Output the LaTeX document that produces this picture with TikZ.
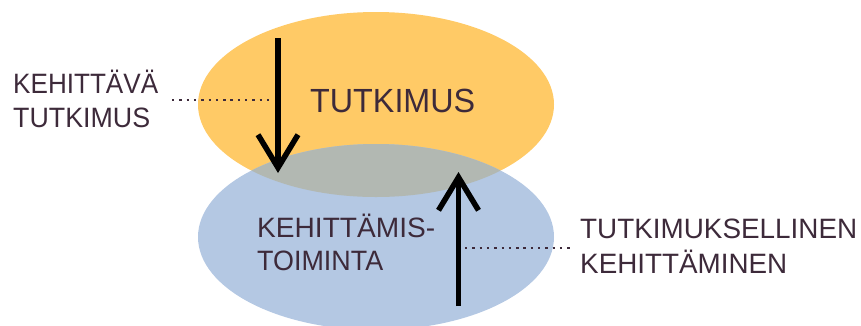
\documentclass[tikz,border=0pt]{standalone}
\usepackage{fontspec}
\usepackage{graphicx}
\setmainfont{Liberation Sans}
\usetikzlibrary{arrows.meta}
\definecolor{orng}{HTML}{FFCA66}
\definecolor{blu}{HTML}{B4C8E3}
\definecolor{ovl}{HTML}{B2B8B2}
\definecolor{txt}{HTML}{3D2A3A}
\newcommand{\fitw}[2]{\resizebox{#1}{\height}{#2}}
\tikzset{
  lbl/.style={inner sep=0pt, anchor=base west, text=txt},
  dotline/.style={draw=txt, line width=2.4pt, dash pattern=on 2.4pt off 4.9pt},
  bigarrow/.style={line width=5.5pt, -{Straight Barb[length=33pt,width=40pt]}},
}
\begin{document}
\begin{tikzpicture}[x=1pt,y=-1pt]
\useasboundingbox (0,0) rectangle (861,325);
\begin{scope}
\clip (0,0) rectangle (861,325);
\fill[orng] (376,104.5) ellipse [x radius=178pt, y radius=92.5pt];
\fill[blu] (376,237) ellipse [x radius=178pt, y radius=93pt];
\begin{scope}
\clip (376,104.5) ellipse [x radius=178pt, y radius=92.5pt];
\fill[ovl] (376,237) ellipse [x radius=178pt, y radius=93pt];
\end{scope}
\end{scope}
% texts
\node[lbl, font=\fontsize{28}{33}\selectfont] (kt1) at (13,93) {\fitw{145pt}{KEHITTÄVÄ}};
\node[lbl, font=\fontsize{28}{33}\selectfont] (kt2) at (13,127) {\fitw{137pt}{TUTKIMUS}};
\node[lbl, font=\fontsize{33.5}{38}\selectfont] (tut) at (310,112) {\fitw{165pt}{TUTKIMUS}};
\node[lbl, font=\fontsize{28}{33}\selectfont] (ke1) at (257,237) {\fitw{178pt}{KEHITTÄMIS-}};
\node[lbl, font=\fontsize{28}{33}\selectfont] (ke2) at (257,270) {\fitw{126pt}{TOIMINTA}};
\node[lbl, font=\fontsize{28}{33}\selectfont] (tk1) at (580,238) {\fitw{277pt}{TUTKIMUKSELLINEN}};
\node[lbl, font=\fontsize{28}{33}\selectfont] (tk2) at (580,273) {\fitw{207pt}{KEHITTÄMINEN}};
% arrows
\coordinate (d1) at (278,38);
\coordinate (d2) at (278,173);
\coordinate (u1) at (458.5,306);
\coordinate (u2) at (458.5,172);
\draw[bigarrow] (d1) -- (d2);
\draw[bigarrow] (u1) -- (u2);
% dotted leaders
\coordinate (l1) at (172,100);
\coordinate (l2) at (270,100);
\coordinate (r1) at (465,248);
\coordinate (r2) at (573,248);
\draw[dotline] (l1) -- (l2);
\draw[dotline] (r1) -- (r2);
\end{tikzpicture}
\end{document}
